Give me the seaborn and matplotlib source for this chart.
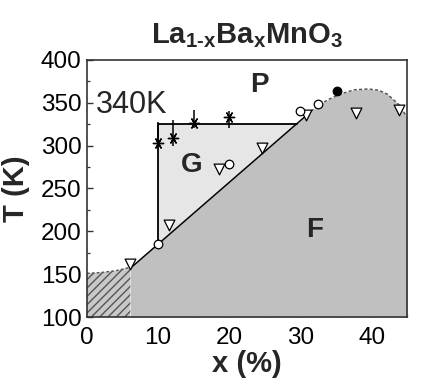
import numpy as np
import pandas as pd
import matplotlib
matplotlib.use("Agg")
import matplotlib.pyplot as plt
import seaborn as sns
from matplotlib.ticker import MultipleLocator

# ---------------- data ----------------
# open down-triangles
tri_x = [6.1, 11.5, 18.6, 24.6, 30.8, 37.8, 43.9]
tri_T = [162, 207, 273, 297, 336, 338, 342]
# open circles
circ_x = [10.0, 20.0, 30.0, 32.5]
circ_T = [185, 278, 340, 348]
# filled circle
dot_x = [35.1]
dot_T = [364]
# asterisks with vertical error bars
ast_x = [10.0, 12.1, 15.1, 20.0]
ast_T = [303, 309, 326, 333]
ast_lo = [0, 9, 5, 12]
ast_hi = [25, 21, 15, 7]
# ferromagnetic boundary: solid straight part, then dashed dome
tc_x = [6.1, 31.5]
tc_T = [157, 340]
dome_x = [31.5, 32.5, 34.0, 35.6, 37.5, 39.5, 41.0, 42.2, 43.8, 45.0]
dome_T = [340, 347, 354, 360, 365, 366, 364.5, 360, 348, 333]
# hatched low-x region top boundary
hat_x = [0, 2, 4, 6.1]
hat_T = [151, 152, 154, 158]
# G region (glassy) polygon corners
g_x = [10.0, 10.0, 29.5]
g_T = [185, 325, 325]
# region labels
lab_text = ["P", "G", "F"]
lab_x = [24.2, 14.7, 32.0]
lab_T = [371, 277, 202]
title = r"$\mathrm{La_{1\text{-}x}Ba_{x}MnO_{3}}$"

# ---------------- style ----------------
sns.set_style("ticks")
plt.rcParams["font.family"] = ["Liberation Sans", "DejaVu Sans"]
plt.rcParams["mathtext.fontset"] = "custom"
plt.rcParams["mathtext.rm"] = "Liberation Sans:bold"
plt.rcParams["mathtext.it"] = "Liberation Sans:bold"
plt.rcParams["mathtext.bf"] = "Liberation Sans:bold"
plt.rcParams["hatch.linewidth"] = 1.0
plt.rcParams["hatch.color"] = "#555555"

fig = plt.figure(figsize=(4.46, 3.91), dpi=100)
ax = fig.add_axes([0.195, 0.189, 0.718, 0.658])

F_GRAY = "#c0c0c0"
G_GRAY = "#e6e6e6"

# fills
ax.fill_between(hat_x, 100, hat_T, facecolor="#c8c8c8", hatch="////",
                edgecolor="#555555", linewidth=0, zorder=1)
f_x = list(tc_x) + list(dome_x[1:])
f_T = list(tc_T) + list(dome_T[1:])
ax.fill_between(f_x, 100, f_T, color=F_GRAY, linewidth=0, zorder=1)
ax.fill(g_x, g_T, color=G_GRAY, linewidth=0, zorder=1)

# boundary lines
sns.lineplot(x=tc_x, y=tc_T, ax=ax, color="black", lw=1.1, sort=False,
             estimator=None, zorder=3)
sns.lineplot(x=g_x, y=g_T, ax=ax, color="black", lw=1.3, sort=False,
             estimator=None, zorder=3)
sns.lineplot(x=dome_x, y=dome_T, ax=ax, color="#555555", lw=1.1, sort=False,
             estimator=None, zorder=3, linestyle=(0, (2, 1.5)))
sns.lineplot(x=hat_x, y=hat_T, ax=ax, color="#555555", lw=1.0, sort=False,
             estimator=None, zorder=3, linestyle=(0, (2, 1.5)))

# error bars on asterisks
ax.errorbar(ast_x, ast_T, yerr=[ast_lo, ast_hi], fmt="none", ecolor="black",
            elinewidth=1.1, capsize=0, zorder=4)

# markers
sns.scatterplot(x=tri_x, y=tri_T, ax=ax, marker="v", s=60, color="white",
                edgecolor="black", linewidth=0.9, zorder=5)
sns.scatterplot(x=circ_x, y=circ_T, ax=ax, marker="o", s=38, color="white",
                edgecolor="black", linewidth=0.9, zorder=5)
sns.scatterplot(x=dot_x, y=dot_T, ax=ax, marker="o", s=38, color="black",
                edgecolor="black", linewidth=0.9, zorder=5)
sns.scatterplot(x=ast_x, y=ast_T, ax=ax, marker=(6, 2, 90), s=55,
                color="black", linewidth=1.0, zorder=5)

# texts
for t, xx, yy in zip(lab_text, lab_x, lab_T):
    ax.text(xx, yy, t, fontsize=20, fontweight="bold", ha="center",
            va="center", zorder=6)
ax.text(1.3, 347.5, "340K", fontsize=22, ha="left", va="center", zorder=6)

# axes
ax.set_xlim(0, 45)
ax.set_ylim(100, 400)
ax.xaxis.set_major_locator(MultipleLocator(10))
ax.xaxis.set_minor_locator(MultipleLocator(5))
ax.yaxis.set_major_locator(MultipleLocator(50))
ax.yaxis.set_minor_locator(MultipleLocator(25))
ax.tick_params(which="both", direction="in", top=False, right=False,
               colors="#333333", labelcolor="black")
ax.tick_params(which="major", length=4, width=1.0, labelsize=17.5)
ax.tick_params(axis="x", which="major", pad=7)
ax.tick_params(axis="y", which="major", pad=4)
ax.tick_params(which="minor", length=2.5, width=0.9)
for sp in ax.spines.values():
    sp.set_color("#333333")
    sp.set_linewidth(1.2)
    sp.set_zorder(10)

ax.set_xlabel("x (%)", fontsize=21, fontweight="bold", labelpad=1)
ax.set_ylabel("T (K)", fontsize=21, fontweight="bold", labelpad=8)
ax.set_title(title, fontsize=21, pad=12)

fig.savefig("out.png", dpi=100)
